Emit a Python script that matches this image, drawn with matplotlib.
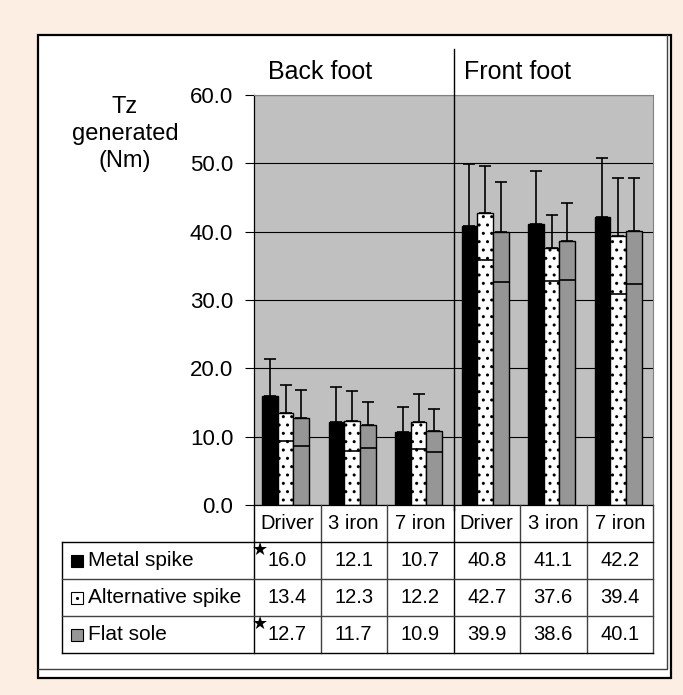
import matplotlib.pyplot as plt
import matplotlib.patches as mpatches
from matplotlib.lines import Line2D
import numpy as np

plt.rcParams['font.family'] = ['Liberation Sans', 'DejaVu Sans']

feet = ['Back foot', 'Front foot']
clubs = ['Driver', '3 iron', '7 iron', 'Driver', '3 iron', '7 iron']
series = ['Metal spike', 'Alternative spike', 'Flat sole']
metal = [16.0, 12.1, 10.7, 40.8, 41.1, 42.2]
alternative = [13.4, 12.3, 12.2, 42.7, 37.6, 39.4]
flat = [12.7, 11.7, 10.9, 39.9, 38.6, 40.1]
# standard deviations
metal_sd = [5.3, 5.2, 3.7, 9.1, 7.8, 8.6]
alternative_sd = [4.1, 4.4, 4.0, 6.9, 4.8, 8.5]
flat_sd = [4.1, 3.4, 3.2, 7.3, 5.6, 7.8]
starred = [(0, 0), (2, 0)]  # (series row, club column)
yticks = [0, 10, 20, 30, 40, 50, 60]

values = [metal, alternative, flat]
sds = [metal_sd, alternative_sd, flat_sd]
colors = ['black', 'white', '#969696']
hatches = [None, '..', None]

W, H = 683, 695
def fx(px):
    return px / W
def fy(py):
    return 1 - py / H

fig = plt.figure(figsize=(6.83, 6.95), dpi=100, facecolor='#fdeee3')

# white panel with a double frame on right and bottom
fig.patches.append(mpatches.Rectangle((fx(38), fy(678)), fx(671) - fx(38), fy(35) - fy(678),
                                      transform=fig.transFigure, facecolor='white',
                                      edgecolor='black', lw=1.6, zorder=-2))
fig.add_artist(Line2D([fx(38), fx(667), fx(667)], [fy(669), fy(669), fy(35)],
                      transform=fig.transFigure, color='#404040', lw=1, zorder=-1))

ax = fig.add_axes([fx(254), fy(505), fx(653) - fx(254), fy(95) - fy(505)])
ax.set_facecolor('#c0c0c0')
x = np.arange(len(clubs)) - 0.025
w = 0.235
for i in range(3):
    pos = x + (i - 1) * w
    v = np.array(values[i])
    s = np.array(sds[i])
    ax.bar(pos, v, w, color=colors[i], edgecolor='black', lw=1, hatch=hatches[i], zorder=2)
    ax.errorbar(pos, v, yerr=[np.zeros(len(v)), s], fmt='none', ecolor='black',
                elinewidth=1.2, capsize=4.3, capthick=1.2, zorder=3)
    if i > 0:
        ax.hlines(v - s, pos - w / 2, pos + w / 2, color='black', lw=1.2, zorder=3)

ax.set_xlim(-0.5, len(clubs) - 0.5)
ax.set_ylim(0, 60)
ax.set_yticks(yticks)
ax.set_yticklabels([f'{t:.1f}' for t in yticks])
ax.set_xticks([])
ax.yaxis.grid(True, color='black', lw=0.8)
ax.set_axisbelow(True)
ax.tick_params(axis='y', direction='out', length=6.5, width=0.8, pad=8.5, labelsize=16)
for sp in ['top', 'right']:
    ax.spines[sp].set_color('#808080')
for sp in ['left', 'bottom']:
    ax.spines[sp].set_color('black')
    ax.spines[sp].set_linewidth(0.9)

# separator between back and front foot
ax.plot([2.5, 2.5], [-0.7, 66.7], color='black', lw=1, clip_on=False, zorder=4)
fig.text(fx(268), fy(72), feet[0], fontsize=18, ha='left', va='center')
fig.text(fx(464), fy(72), feet[1], fontsize=18, ha='left', va='center')
fig.text(fx(125), fy(134), 'Tz\ngenerated\n(Nm)', fontsize=17, ha='center', va='center',
         multialignment='center', linespacing=1.3)

# data table below the chart
tax = fig.add_axes([fx(254), fy(653), fx(653) - fx(254), fy(505) - fy(653)])
tax.set_xlim(-0.5, len(clubs) - 0.5)
tax.set_ylim(4, 0)
tax.axis('off')
line_c = '#404040'
leg_left = -0.5 - (254 - 62) / 66.5
for k in range(len(clubs) + 1):
    xb = k - 0.5
    c = 'black' if k in (0, 3) else line_c
    tax.plot([xb, xb], [0, 4], color=c, lw=1, clip_on=False)
tax.plot([leg_left, leg_left], [1, 4], color='black', lw=1, clip_on=False)
for r in range(1, 5):
    c = 'black' if r in (1, 4) else line_c
    tax.plot([leg_left, len(clubs) - 0.5], [r, r], color=c, lw=1, clip_on=False)

for k, club in enumerate(clubs):
    tax.text(k, 0.5, club, fontsize=14.5, ha='center', va='center')
for r in range(3):
    for k in range(len(clubs)):
        tax.text(k, r + 1.5, f'{values[r][k]:.1f}', fontsize=14.5, ha='center', va='center')
    mx = leg_left + 0.233
    tax.plot(mx, r + 1.5, marker='s', ms=9, mfc=colors[r], mec='black', mew=0.8, clip_on=False)
    if hatches[r]:
        tax.plot(mx, r + 1.5, marker='.', ms=2.5, color='black', clip_on=False)
    tax.text(leg_left + 0.39, r + 1.5, series[r], fontsize=15, ha='left', va='center')
for r, k in starred:
    tax.text(k - 0.405, r + 1.22, '\u2605', fontsize=13, ha='center', va='center',
             family='DejaVu Sans')

plt.savefig('out.png', dpi=100, facecolor=fig.get_facecolor())
